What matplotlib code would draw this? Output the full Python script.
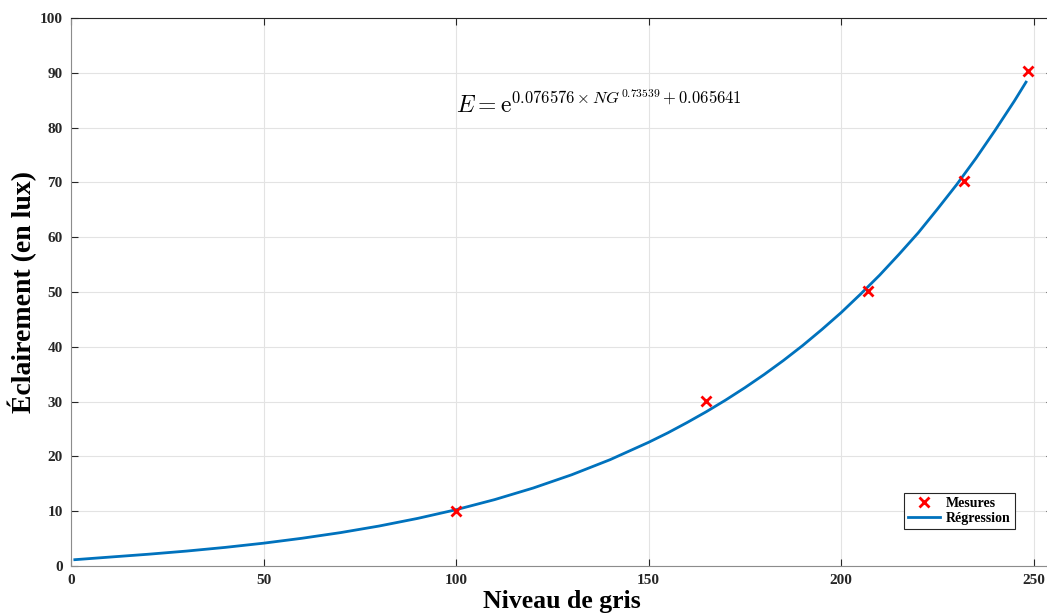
import numpy as np
import matplotlib.pyplot as plt

# Mesures (niveau de gris, eclairement en lux)
ng_mes = [100, 165, 207, 232, 248.5]
lux_mes = [10.0, 30.1, 50.1, 70.3, 90.4]

# Courbe de regression
ng_reg = [1, 10, 20, 30, 40, 50, 60, 70, 80, 90, 100, 110, 120, 130, 140,
          150, 155, 160, 165, 170, 175, 180, 185, 190, 195, 200, 205, 210,
          215, 220, 225, 230, 235, 240, 245, 248]
lux_reg = [1.15, 1.62, 2.14, 2.72, 3.39, 4.16, 5.06, 6.09, 7.29, 8.68, 10.27,
           12.11, 14.22, 16.64, 19.40, 22.57, 24.30, 26.18, 28.16, 30.28,
           32.54, 34.94, 37.50, 40.23, 43.16, 46.24, 49.59, 53.08, 56.86,
           60.79, 65.13, 69.60, 74.40, 79.53, 84.88, 88.3]

x_ticks = [0, 50, 100, 150, 200, 250]
y_ticks = list(range(0, 101, 10))

plt.rcParams['font.family'] = ['Liberation Serif', 'DejaVu Serif']
plt.rcParams['font.weight'] = 'bold'
plt.rcParams['mathtext.fontset'] = 'cm'

fig = plt.figure(figsize=(10.47, 6.14), dpi=100)
ax = fig.add_axes([0.0678, 0.0782, 0.9379, 0.8925])

ax.plot(ng_mes, lux_mes, 'x', color='red', markersize=6.5, markeredgewidth=2,
        label='Mesures', zorder=4)
ax.plot(ng_reg, lux_reg, '-', color='#0072BD', linewidth=2, label='Régression',
        solid_joinstyle='round', zorder=3)

ax.set_xlim(0, 255)
ax.set_ylim(0, 100)
ax.set_xticks(x_ticks)
ax.set_yticks(y_ticks)
ax.grid(True, color='#e3e3e3', linewidth=0.8)
ax.set_axisbelow(True)

ax.tick_params(direction='in', length=5, width=0.8, color='#262626',
               top=True, right=True, labelsize=11, pad=6)
for lab in ax.get_xticklabels() + ax.get_yticklabels():
    lab.set_fontweight('bold')
    lab.set_color('#262626')
ax.spines['left'].set_color('#8c8c8c')
ax.spines['bottom'].set_color('#8c8c8c')
ax.spines['top'].set_color('#262626')
ax.spines['right'].set_color('#262626')

ax.set_xlabel('Niveau de gris', fontsize=18.5, fontweight='bold', labelpad=2)
ax.set_ylabel('Éclairement (en lux)', fontsize=20, fontweight='bold', labelpad=2)

ax.text(100, 84.3, r'$E = \mathrm{e}^{0.076576 \times NG^{0.73539} + 0.065641}$',
        fontsize=17, ha='left', va='center')

leg = ax.legend(loc='lower right', bbox_to_anchor=(0.961, 0.0675),
                prop={'weight': 'bold', 'size': 10}, fancybox=False,
                edgecolor='#262626', framealpha=1, handlelength=2.3,
                borderpad=0.3, labelspacing=0.15, handletextpad=0.4,
                borderaxespad=0)
leg.get_frame().set_linewidth(0.8)

fig.savefig('out.png', dpi=100)
